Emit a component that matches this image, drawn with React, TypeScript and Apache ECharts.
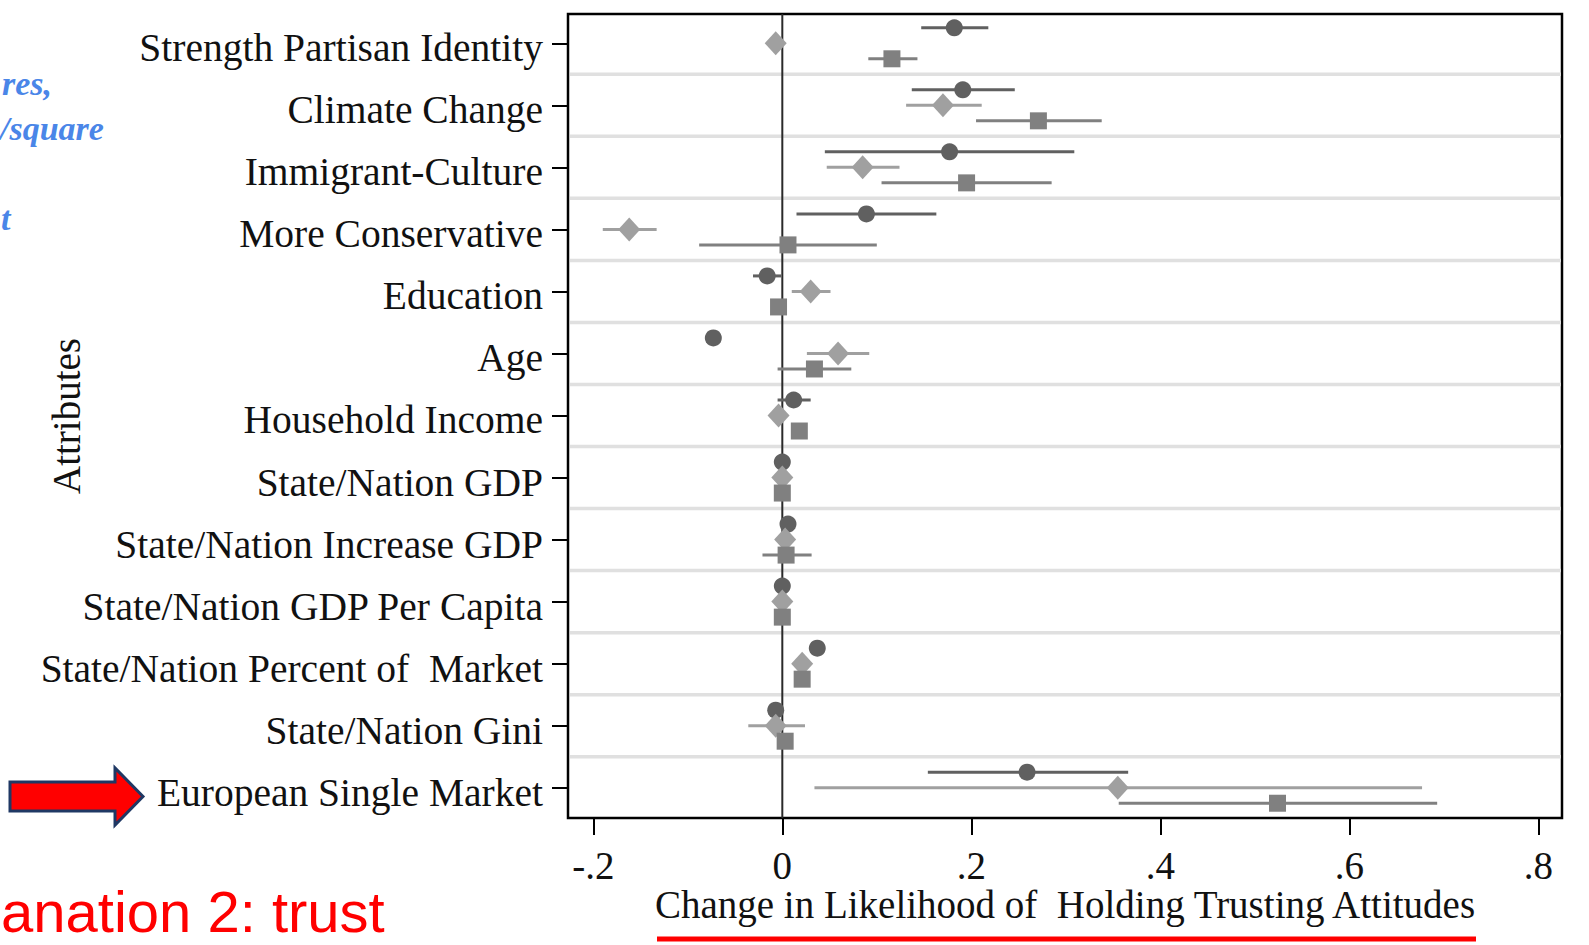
import React, { useEffect, useRef } from "react";
import * as echarts from "echarts";

// ---------- data ----------
const categories: string[] = [
  "Strength Partisan Identity",
  "Climate Change",
  "Immigrant-Culture",
  "More Conservative",
  "Education",
  "Age",
  "Household Income",
  "State/Nation GDP",
  "State/Nation Increase GDP",
  "State/Nation GDP Per Capita",
  "State/Nation Percent of  Market",
  "State/Nation Gini",
  "European Single Market",
];

// circle markers (dark gray)
const circleEst = [0.182, 0.191, 0.177, 0.089, -0.016, -0.073, 0.012, 0.0, 0.006, 0.0, 0.037, -0.007, 0.259];
const circleLo = [0.147, 0.137, 0.045, 0.015, -0.031, -0.076, -0.005, -0.003, 0.003, -0.003, 0.034, -0.01, 0.154];
const circleHi = [0.218, 0.246, 0.309, 0.163, -0.001, -0.07, 0.03, 0.003, 0.009, 0.003, 0.04, -0.004, 0.366];

// diamond markers (light gray)
const diamondEst = [-0.007, 0.17, 0.085, -0.162, 0.03, 0.059, -0.004, 0.0, 0.003, 0.0, 0.021, -0.007, 0.355];
const diamondLo = [-0.01, 0.131, 0.047, -0.19, 0.01, 0.026, -0.007, -0.003, 0.0, -0.003, 0.018, -0.036, 0.034];
const diamondHi = [-0.004, 0.211, 0.124, -0.133, 0.051, 0.092, -0.001, 0.003, 0.006, 0.003, 0.024, 0.024, 0.677];

// square markers (medium gray)
const squareEst = [0.116, 0.271, 0.195, 0.006, -0.004, 0.034, 0.018, 0.0, 0.004, 0.0, 0.021, 0.003, 0.524];
const squareLo = [0.091, 0.205, 0.105, -0.088, -0.007, -0.005, 0.015, -0.003, -0.021, -0.003, 0.018, -0.005, 0.356];
const squareHi = [0.143, 0.338, 0.285, 0.1, -0.001, 0.073, 0.021, 0.003, 0.031, 0.003, 0.024, 0.011, 0.693];

const xTickValues = [-0.2, 0, 0.2, 0.4, 0.6, 0.8];
const xTickLabels = ["-.2", "0", ".2", ".4", ".6", ".8"];

const xTitle = "Change in Likelihood of  Holding Trusting Attitudes";
const yTitle = "Attributes";

// ---------- styling ----------
const SERIF = "'Liberation Serif', 'Times New Roman', serif";
const C_CIRCLE = "#606060";
const C_DIAMOND = "#a0a0a0";
const C_SQUARE = "#808080";
const X_MIN = -0.2268;
const X_MAX = 0.8251;
const Y_MIN = -0.472;
const Y_MAX = 12.488;
const OFFSET = 0.25;
const LABEL_SHIFT = 0.08; // serif labels sit slightly below their tick in the original

const rowIdx = categories.map((_, i) => i);

function ciSeries(lo: number[], hi: number[], offset: number, color: string, name: string) {
  return {
    type: "custom",
    name,
    z: 3,
    silent: true,
    encode: { x: [0, 1], y: 2 },
    data: lo.map((l, i) => [l, hi[i], i + offset]),
    renderItem: (_p: any, api: any) => {
      const a = api.coord([api.value(0), api.value(2)]);
      const b = api.coord([api.value(1), api.value(2)]);
      return {
        type: "line",
        shape: { x1: a[0], y1: a[1], x2: b[0], y2: b[1] },
        style: { stroke: color, lineWidth: 3 },
      };
    },
  };
}

function pointSeries(est: number[], offset: number, color: string, symbol: string, size: any, name: string) {
  return {
    type: "scatter",
    name,
    z: 4,
    symbol,
    symbolSize: size,
    itemStyle: { color, opacity: 1 },
    data: est.map((v, i) => [v, i + offset]),
  };
}

export default function App() {
  const ref = useRef<HTMLDivElement>(null);

  useEffect(() => {
    if (!ref.current) return;
    const chart = echarts.init(ref.current, undefined, { renderer: "svg" });

    const separators = categories.slice(1).map((_, i) => i + 0.5);

    const option: any = {
      animation: false,
      backgroundColor: "#ffffff",
      grid: {
        left: 568,
        top: 14,
        width: 994,
        height: 804,
        show: true,
        containLabel: false,
        outerBoundsMode: "none",
        borderColor: "#000",
        borderWidth: 2.5,
        backgroundColor: "transparent",
      },
      xAxis: {
        type: "value",
        position: "bottom",
        min: X_MIN,
        max: X_MAX,
        splitLine: { show: false },
        axisLine: { show: false, onZero: false },
        axisTick: {
          show: true,
          inside: false,
          customValues: xTickValues,
          length: 17,
          lineStyle: { color: "#000", width: 2 },
        },
        axisLabel: {
          customValues: xTickValues,
          margin: 28,
          fontFamily: SERIF,
          fontSize: 39,
          color: "#111",
          formatter: (v: number) => {
            const k = xTickValues.findIndex((t) => Math.abs(t - v) < 1e-6);
            return k >= 0 ? xTickLabels[k] : "";
          },
        },
        name: xTitle,
        nameLocation: "middle",
        nameGap: 67,
        nameMoveOverlap: false,
        nameTextStyle: { fontFamily: SERIF, fontSize: 39, color: "#111" },
      },
      yAxis: {
        type: "value",
        position: "left",
        inverse: true,
        min: Y_MIN,
        max: Y_MAX,
        splitLine: { show: false },
        axisLine: { show: false, onZero: false },
        axisTick: {
          show: true,
          inside: false,
          customValues: rowIdx,
          length: 16,
          lineStyle: { color: "#000", width: 2 },
        },
        axisLabel: {
          customValues: rowIdx.map((i) => i + LABEL_SHIFT),
          margin: 25,
          fontFamily: SERIF,
          fontSize: 39.5,
          color: "#111",
          formatter: (v: number) => categories[Math.round(v)] ?? "",
        },
        name: yTitle,
        nameLocation: "middle",
        nameRotate: 90,
        nameGap: 482,
        nameMoveOverlap: false,
        nameTextStyle: { fontFamily: SERIF, fontSize: 39, color: "#111" },
      },
      graphic: [
        // partial blue italic words at the left edge (cut off slide text)
        { type: "text", x: 52, y: 83.5, style: { text: "res,", fill: "#4a86e8", font: `italic bold 34px ${SERIF}`, align: "right", verticalAlign: "middle" } },
        { type: "text", x: 0, y: 128.5, style: { text: "/square", fill: "#4a86e8", font: `italic bold 34px ${SERIF}`, align: "left", verticalAlign: "middle" } },
        { type: "text", x: 1, y: 218.5, style: { text: "t", fill: "#4a86e8", font: `italic bold 34px ${SERIF}`, align: "left", verticalAlign: "middle" } },
        // red block arrow
        {
          type: "polygon",
          shape: { points: [[10, 782], [115, 782], [115, 768], [143, 796.5], [115, 825], [115, 811], [10, 811]] },
          style: { fill: "#ff0000", stroke: "#1f3864", lineWidth: 3 },
        },
        // large red slide text
        { type: "text", x: 1, y: 911.6, style: { text: "anation 2: trust", fill: "#ff0000", font: "58px 'Liberation Sans', Arial, sans-serif", align: "left", verticalAlign: "middle" } },
        // red underline under the axis title
        { type: "rect", shape: { x: 657, y: 936.5, width: 819, height: 5 }, style: { fill: "#ff0000" } },
      ],
      series: [
        {
          type: "custom",
          name: "separators",
          z: 1,
          silent: true,
          encode: { y: 0 },
          data: separators.map((s) => [s]),
          renderItem: (_p: any, api: any) => {
            const a = api.coord([X_MIN, api.value(0)]);
            const b = api.coord([X_MAX, api.value(0)]);
            return {
              type: "line",
              shape: { x1: a[0] + 2, y1: a[1], x2: b[0] - 1, y2: b[1] },
              style: { stroke: "#e0e0e0", lineWidth: 3.5 },
            };
          },
        },
        {
          type: "custom",
          name: "zero",
          z: 2,
          silent: true,
          encode: { x: 0 },
          data: [[0]],
          renderItem: (_p: any, api: any) => {
            const a = api.coord([api.value(0), Y_MIN]);
            const b = api.coord([api.value(0), Y_MAX]);
            return {
              type: "line",
              shape: { x1: a[0], y1: a[1], x2: b[0], y2: b[1] },
              style: { stroke: "#2a2a2a", lineWidth: 2 },
            };
          },
        },
        ciSeries(circleLo, circleHi, -OFFSET, C_CIRCLE, "Circle CI"),
        ciSeries(diamondLo, diamondHi, 0, C_DIAMOND, "Diamond CI"),
        ciSeries(squareLo, squareHi, OFFSET, C_SQUARE, "Square CI"),
        pointSeries(circleEst, -OFFSET, C_CIRCLE, "circle", 17, "Circle"),
        pointSeries(diamondEst, 0, C_DIAMOND, "diamond", [22, 24], "Diamond"),
        pointSeries(squareEst, OFFSET, C_SQUARE, "rect", 17, "Square"),
      ],
    };

    chart.setOption(option);
    return () => chart.dispose();
  }, []);

  return (
    <div
      ref={ref}
      style={{ position: "fixed", left: 0, top: 0, width: 1589, height: 945, background: "#fff" }}
    />
  );
}
